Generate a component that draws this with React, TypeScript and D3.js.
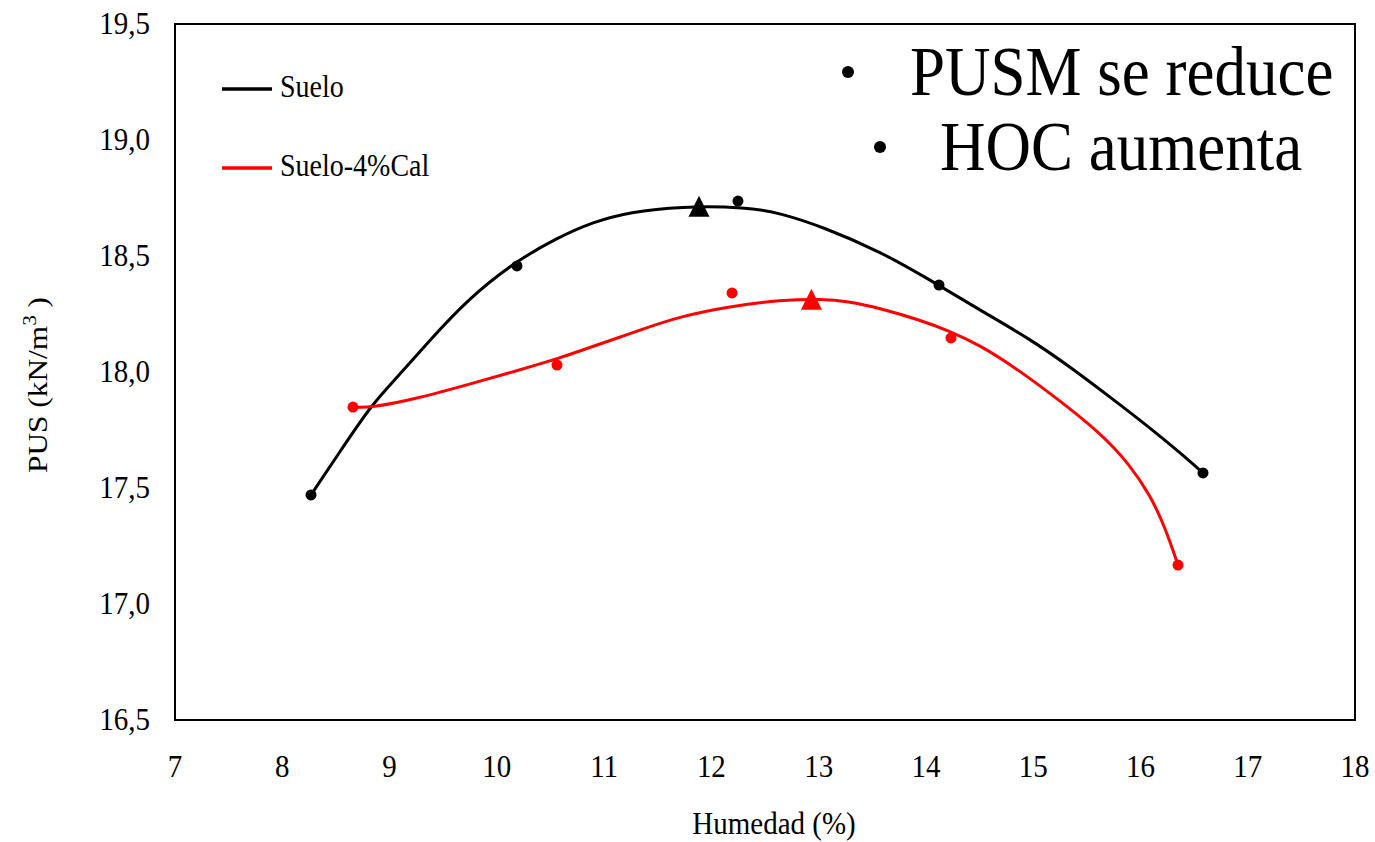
import React from "react";
import * as d3 from "d3";

// Compaction curves: moisture content (%) vs dry unit weight (kN/m3)
const sueloHum = [8.268, 10.188, 12.248, 14.122, 16.583];
const sueloPus = [17.47, 18.457, 18.737, 18.375, 17.565];
const calHum = [8.659, 10.561, 12.193, 14.234, 16.35];
const calPus = [17.849, 18.03, 18.341, 18.147, 17.168];

// Fitted trend curves
const sueloCurveHum = [8.268, 8.566, 8.846, 9.051, 9.377, 9.722, 10.151, 10.561, 10.897, 11.242, 11.708, 12.332, 12.64, 13.041, 13.572, 14.038, 14.504, 14.971, 15.344, 15.716, 16.089, 16.369, 16.583];
const sueloCurvePus = [17.47, 17.677, 17.866, 17.966, 18.138, 18.31, 18.47, 18.578, 18.647, 18.69, 18.714, 18.711, 18.685, 18.625, 18.52, 18.397, 18.267, 18.142, 18.022, 17.892, 17.759, 17.652, 17.565];
const calCurveHum = [8.659, 8.818, 9.256, 9.75, 10.216, 10.589, 10.962, 11.335, 11.708, 12.193, 12.64, 13.041, 13.265, 13.572, 13.945, 14.197, 14.504, 14.812, 15.157, 15.623, 15.903, 16.089, 16.229, 16.35];
const calCurvePus = [17.849, 17.845, 17.885, 17.948, 18.009, 18.06, 18.121, 18.181, 18.24, 18.285, 18.31, 18.315, 18.305, 18.275, 18.224, 18.181, 18.116, 18.025, 17.909, 17.74, 17.599, 17.47, 17.332, 17.168];

// Optimum points (max dry unit weight, optimum moisture)
const optHum = [11.885, 12.933];
const optPus = [18.714, 18.314];

const xTicks = [7, 8, 9, 10, 11, 12, 13, 14, 15, 16, 17, 18];
const yTicks = [16.5, 17.0, 17.5, 18.0, 18.5, 19.0, 19.5];

const seriesNames = ["Suelo", "Suelo-4%Cal"];
const seriesColors = ["#000000", "#ff0000"];

const W = 1375;
const H = 842;
const left = 175;
const right = 1355;
const top = 24;
const bottom = 720;
const FONT = "'Liberation Serif', 'Times New Roman', Times, serif";
const SY = 1.12;

export default function App() {
  const x = d3.scaleLinear().domain([7, 18]).range([left, right]);
  const y = d3.scaleLinear().domain([16.5, 19.5]).range([bottom, top]);

  const line = d3
    .line<[number, number]>()
    .x((d) => x(d[0]))
    .y((d) => y(d[1]))
    .curve(d3.curveBasis);

  const curves = [
    d3.zip(sueloCurveHum, sueloCurvePus) as [number, number][],
    d3.zip(calCurveHum, calCurvePus) as [number, number][],
  ];
  const points = [
    d3.zip(sueloHum, sueloPus) as [number, number][],
    d3.zip(calHum, calPus) as [number, number][],
  ];

  const txt = (
    tx: number,
    ty: number,
    s: string | React.ReactNode,
    size: number,
    anchor: "start" | "middle" | "end" = "start",
    key?: string
  ) => (
    <text
      key={key}
      transform={`translate(${tx},${ty}) scale(1,${SY})`}
      fontSize={size}
      fontFamily={FONT}
      textAnchor={anchor}
      fill="#000"
    >
      {s}
    </text>
  );

  const fmt = (v: number) => v.toFixed(1).replace(".", ",");

  return (
    <svg
      width={W}
      height={H}
      style={{ position: "absolute", left: 0, top: 0, background: "#fff" }}
    >
      <rect x={0} y={0} width={W} height={H} fill="#fff" />
      {/* plot frame */}
      <rect
        x={left}
        y={top}
        width={right - left}
        height={bottom - top}
        fill="none"
        stroke="#000"
        strokeWidth={2}
      />

      {/* y tick labels */}
      {yTicks.map((t) => txt(150, y(t) + 10, fmt(t), 29, "end", "y" + t))}
      {/* x tick labels */}
      {xTicks.map((t) => txt(x(t), 777, String(t), 29, "middle", "x" + t))}

      {/* axis titles */}
      {txt(774, 834, "Humedad (%)", 29, "middle")}
      <text
        transform={`translate(47,385) rotate(-90) scale(${SY},1)`}
        fontSize={28}
        fontFamily={FONT}
        textAnchor="middle"
        fill="#000"
      >
        PUS (kN/m
        <tspan dy={-11} fontSize={19}>
          3
        </tspan>
        <tspan dy={11}> )</tspan>
      </text>

      {/* curves */}
      {curves.map((c, i) => (
        <path
          key={"c" + i}
          d={line(c) || ""}
          fill="none"
          stroke={seriesColors[i]}
          strokeWidth={3}
          strokeLinejoin="round"
        />
      ))}

      {/* measured points */}
      {points.map((p, i) =>
        p.map((d, j) => (
          <circle
            key={"p" + i + "-" + j}
            cx={x(d[0])}
            cy={y(d[1])}
            r={5.5}
            fill={seriesColors[i]}
          />
        ))
      )}

      {/* optimum markers */}
      {optHum.map((h, i) => {
        const cx = x(h);
        const cy = y(optPus[i]);
        return (
          <path
            key={"t" + i}
            d={`M${cx},${cy - 10.5}L${cx + 10.5},${cy + 10.5}L${cx - 10.5},${cy + 10.5}Z`}
            fill={seriesColors[i]}
          />
        );
      })}

      {/* legend */}
      {seriesNames.map((n, i) => {
        const ly = 89 + i * 79;
        return (
          <g key={"l" + i}>
            <line
              x1={222}
              x2={272}
              y1={ly}
              y2={ly}
              stroke={seriesColors[i]}
              strokeWidth={3.5}
            />
            {txt(280, ly + 8, n, 28)}
          </g>
        );
      })}

      {/* annotation */}
      <circle cx={848} cy={72} r={6} fill="#000" />
      {txt(910, 95, "PUSM se reduce", 63)}
      <circle cx={880} cy={147} r={6} fill="#000" />
      {txt(940, 170, "HOC aumenta", 63)}
    </svg>
  );
}
